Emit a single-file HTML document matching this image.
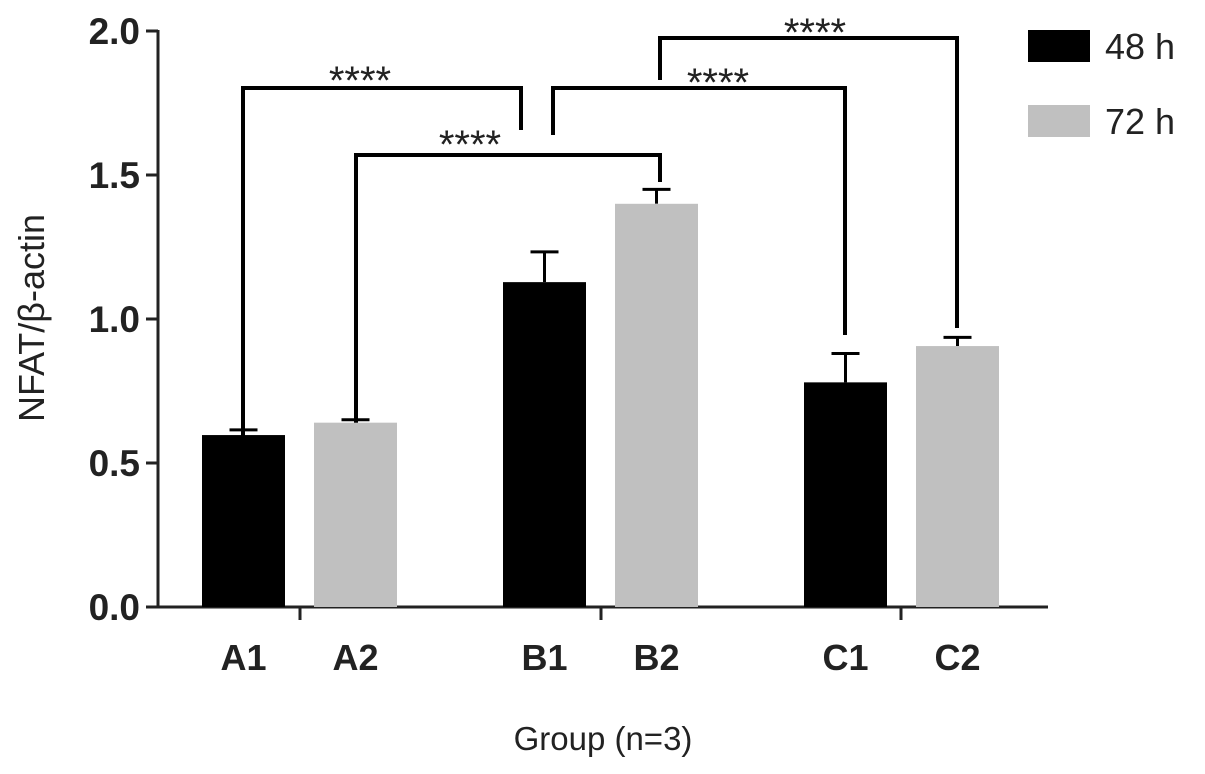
<!DOCTYPE html>
<html><head><meta charset="utf-8"><style>
body{margin:0;background:#fff}
svg text{font-family:"Liberation Sans",sans-serif;fill:#222}
</style></head><body>
<svg id="c" width="1205" height="769"></svg>
<script>
const categories=["A1","A2","B1","B2","C1","C2"];
const values=[0.597,0.640,1.128,1.400,0.780,0.906];
const errors=[0.018,0.010,0.105,0.050,0.100,0.030];
const series=["48 h","72 h","48 h","72 h","48 h","72 h"];
const yTicks=[0,0.5,1.0,1.5,2.0];
const yTickLabels=["0.0","0.5","1.0","1.5","2.0"];
const barLefts=[202,314,503,615,804,916];
const NS="http://www.w3.org/2000/svg";
const svg=document.getElementById("c");
function y(v){return 607-v*288;}
function bx(i){return barLefts[i];}
const BW=83;
function el(t,a,p){const e=document.createElementNS(NS,t);for(const k in a)e.setAttribute(k,a[k]);(p||svg).appendChild(e);return e;}
const colors={"48 h":"#000","72 h":"#c0c0c0"};
let ax=el("path",{d:"M158 30 V607 H1048",fill:"none",stroke:"#222","stroke-width":3});


yTicks.forEach((t,i)=>{
 let l=el("line",{x1:146,x2:158,y1:y(t),y2:y(t),stroke:"#222","stroke-width":3});
 
 
 let tx=el("text",{x:140,y:y(t)+13,"text-anchor":"end","font-size":37,"font-weight":"bold"});
 tx.textContent=yTickLabels[i];
 
 
});
[300,601,901].forEach(x=>{
 let l=el("line",{x1:x,x2:x,y1:607,y2:620,stroke:"#222","stroke-width":3});
 
 
});
categories.forEach((c,i)=>{
 const x=bx(i),top=y(values[i]),cx=x+BW/2;
 let eb=el("path",{d:`M${cx} ${top} V${y(values[i]+errors[i])} M${cx-14} ${y(values[i]+errors[i])} H${cx+14}`,stroke:"#000","stroke-width":3,fill:"none"});
 
 
 let t=el("text",{x:cx,y:670,"text-anchor":"middle","font-size":36,"font-weight":"bold"});
 t.textContent=c;
 
 
});
const brackets=[[243,454,88,521,130,360,88],[356,446,155,660,182,470,152],[553,135,88,845,335,718,90],[660,80,38,957,328,815,40]];
brackets.forEach(b=>{
 let p=el("path",{d:`M${b[0]} ${b[1]} V${b[2]} H${b[3]} V${b[4]}`,stroke:"#000","stroke-width":4,fill:"none"});
 
 
 let t=el("text",{x:b[5],y:b[6]+6,"text-anchor":"middle","font-size":40});
 t.textContent="****";
 
 
});
categories.forEach((c,i)=>{
 const x=bx(i),top=y(values[i]);
 let r=el("rect",{x:x,y:top,width:BW,height:607-top,fill:colors[series[i]]});
 
 
});
let yl=el("text",{transform:"translate(44 318) rotate(-90)","text-anchor":"middle","font-size":36});
yl.textContent="NFAT/β-actin";


let xl=el("text",{x:603,y:750,"text-anchor":"middle","font-size":33});
xl.textContent="Group (n=3)";


[["48 h","#000",30],["72 h","#c0c0c0",105]].forEach(l=>{
 let r=el("rect",{x:1028,y:l[2],width:62,height:32,fill:l[1]});
 
 
 let t=el("text",{x:1105,y:l[2]+29,"font-size":36});
 t.textContent=l[0];
 
 
});
</script>
</body></html>
